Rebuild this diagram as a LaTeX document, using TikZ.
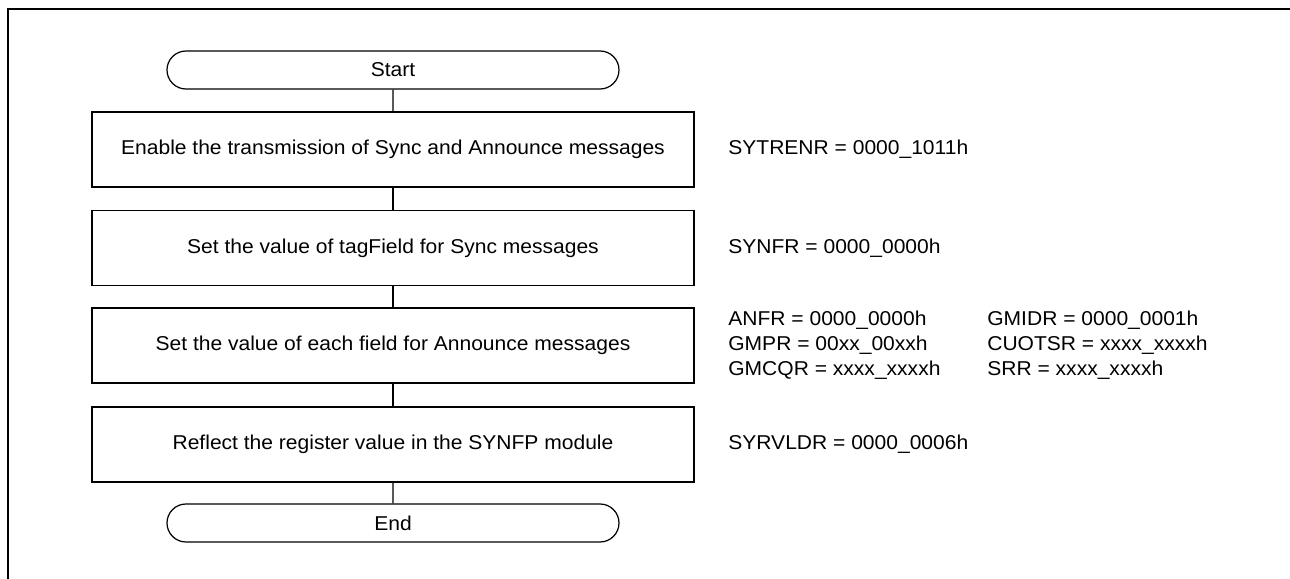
\documentclass[tikz,border=0pt]{standalone}
\usepackage{fontspec}
\setmainfont[FakeStretch=1.05]{Liberation Sans}
\usepackage{tikz}
\usetikzlibrary{shapes.misc, positioning}

\begin{document}
\begin{tikzpicture}[
    every node/.style = {align=center, font=\fontsize{11.4}{14.2}\selectfont},
    term/.style = {
        rounded rectangle, draw, line width=0.7pt,
        minimum width=9.04cm, minimum height=0.76cm, inner sep=0pt
    },
    proc/.style = {
        rectangle, draw, line width=0.7pt,
        minimum width=12.04cm, minimum height=1.5cm, inner sep=0pt
    },
    reg/.style  = {anchor=west, align=left, inner sep=0pt},
    link/.style = {line width=0.7pt},
    frame/.style= {line width=1.2pt},
]
\useasboundingbox (0,0) rectangle (25.8,-11.58);

% --- Rahmen (nur oben und links sichtbar) ---
\draw[frame] (0.16,-11.58) -- (0.16,-0.18) -- (25.8,-0.18);

% --- Ablauf ---
\node[term] (start)    at (7.86,-1.40) {Start};
\node[proc] (enable)   at (7.86,-2.99)
    {Enable the transmission of Sync and Announce messages};
\node[proc] (tagfield) at (7.86,-4.96)
    {Set the value of tagField for Sync messages};
\node[proc] (annfield) at (7.86,-6.91)
    {Set the value of each field for Announce messages};
\node[proc] (reflect)  at (7.86,-8.89)
    {Reflect the register value in the SYNFP module};
\node[term] (finish)   at (7.86,-10.46) {End};

% --- Registerwerte ---
\node[reg] (sytrenr) at (14.56,-2.99) {SYTRENR = 0000\_1011h};
\node[reg] (synfr)   at (14.56,-4.96) {SYNFR = 0000\_0000h};
\node[reg] (anfr)    at (14.56,-6.91)
    {ANFR = 0000\_0000h\\
     GMPR = 00xx\_00xxh\\
     GMCQR = xxxx\_xxxxh};
\node[reg] (gmidr)   at (19.74,-6.91)
    {GMIDR = 0000\_0001h\\
     CUOTSR = xxxx\_xxxxh\\
     SRR = xxxx\_xxxxh};
\node[reg] (syrvldr) at (14.56,-8.89) {SYRVLDR = 0000\_0006h};

% --- Verbindungen ---
\draw[link] (start)    -- (enable);
\draw[link] (enable)   -- (tagfield);
\draw[link] (tagfield) -- (annfield);
\draw[link] (annfield) -- (reflect);
\draw[link] (reflect)  -- (finish);

\end{tikzpicture}
\end{document}
